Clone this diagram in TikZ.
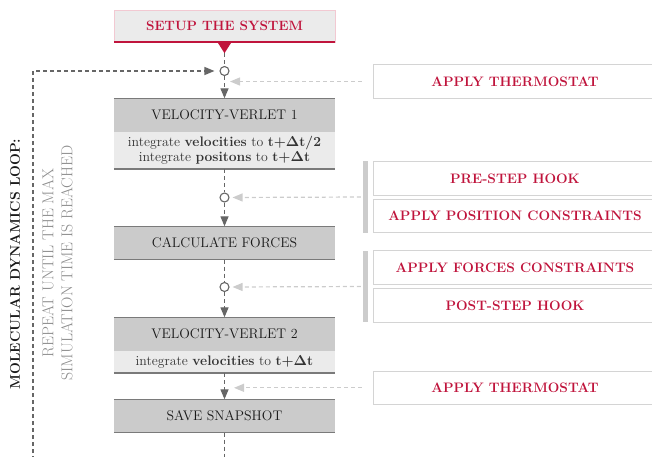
\documentclass[tikz,border=0pt]{standalone}
\usepackage{fontspec}
\usetikzlibrary{arrows.meta}

\definecolor{crimson}{HTML}{C0143C}
\definecolor{blush}{HTML}{F2C9D2}
\definecolor{stepgray}{HTML}{CBCBCB}
\definecolor{notegray}{HTML}{EBEBEB}
\definecolor{rulegray}{HTML}{7A7A7A}
\definecolor{flowgray}{HTML}{666666}
\definecolor{feedgray}{HTML}{CCCCCC}
\definecolor{sidegray}{HTML}{D4D4D4}
\definecolor{loopgray}{HTML}{8C8C8C}

\tikzset{
  stepbox/.style={minimum width=221pt, minimum height=33pt, inner sep=0pt,
    fill=stepgray, text=black!90, font=\fontsize{13.9}{15}\selectfont},
  notebox/.style={minimum width=221pt, inner sep=0pt, fill=notegray,
    text=black!80, align=center, font=\fontsize{13.8}{15}\selectfont},
  sidebox/.style={minimum width=284pt, minimum height=33.5pt, inner sep=0pt,
    draw=sidegray, line width=1pt, fill=white, text=crimson,
    font=\fontsize{13.7}{15}\selectfont\bfseries},
  bar/.style={fill=feedgray, minimum width=5.5pt, minimum height=71.5pt, inner sep=0pt},
  junction/.style={circle, draw=flowgray, fill=white, line width=1.1pt,
    inner sep=0pt, minimum size=9pt},
  flow/.style={flowgray, line width=1.3pt, dash pattern=on 4pt off 3pt},
  feed/.style={feedgray, line width=1.2pt, dash pattern=on 4pt off 3pt},
  pointer/.style={-{Triangle[length=10pt,width=8pt]}},
  boxrule/.style={rulegray, line width=1.3pt},
}

\begin{document}
\begin{tikzpicture}[x=1pt, y=-1pt]
  \useasboundingbox (0,0) rectangle (652,456);

  % start of the run
  \node[minimum width=221pt, minimum height=32pt, inner sep=0pt, fill=notegray,
    draw=blush, text=crimson, font=\fontsize{13.5}{15}\selectfont\bfseries]
    (setup) at (224.5,26) {SETUP THE SYSTEM};
  \draw[crimson, line width=2pt] (setup.south west) -- (setup.south east);
  \fill[crimson] (setup.south) +(-7,0) -- +(7,0) -- +(0,11) -- cycle;
  \coordinate (drop) at (224.5,53);

  % hook points on the main line
  \node[junction] (j1) at (224.5,71) {};
  \node[junction] (j2) at (224.5,197.5) {};
  \node[junction] (j3) at (224.5,287) {};

  % integration steps
  \node[stepbox] (vv1) at (224.5,115) {VELOCITY-VERLET 1};
  \node[notebox, minimum height=37pt, anchor=north] (vv1txt) at (vv1.south)
    {integrate \textbf{velocities} to \textbf{t+\boldmath$\Delta$t/2}\\
     integrate \textbf{positons} to \textbf{t+\boldmath$\Delta$t}};
  \node[stepbox] (forces) at (224.5,243) {CALCULATE FORCES};
  \node[stepbox] (vv2) at (224.5,334) {VELOCITY-VERLET 2};
  \node[notebox, minimum height=22pt, anchor=north] (vv2txt) at (vv2.south)
    {integrate \textbf{velocities} to \textbf{t+\boldmath$\Delta$t}};
  \node[stepbox] (snap) at (224.5,416) {SAVE SNAPSHOT};

  \foreach \hd/\ft in {vv1/vv1txt, forces/forces, vv2/vv2txt, snap/snap} {
    \draw[boxrule] (\hd.north west) -- (\hd.north east);
    \draw[boxrule] (\ft.south west) -- (\ft.south east);
  }

  % optional modules on the right
  \node[sidebox] (thermoA) at (515,81.5) {APPLY THERMOSTAT};
  \node[sidebox] (prehook) at (515,178.3) {PRE-STEP HOOK};
  \node[sidebox] (posc) at (515,216) {APPLY POSITION CONSTRAINTS};
  \node[sidebox] (forcec) at (515,267.5) {APPLY FORCES CONSTRAINTS};
  \node[sidebox] (posthook) at (515,305.3) {POST-STEP HOOK};
  \node[sidebox] (thermoB) at (515,387.8) {APPLY THERMOSTAT};
  \node[bar] (barA) at (365.7,197) {};
  \node[bar] (barB) at (365.7,286.5) {};

  \coordinate (inA) at (230,81.5);
  \coordinate (inB) at (234,387.8);
  \draw[feed, pointer, shorten <=11pt] (thermoA.west) -- (inA);
  \draw[feed, pointer, shorten <=2pt, shorten >=3pt] (barA.west) -- (j2.east);
  \draw[feed, pointer, shorten <=2pt, shorten >=3pt] (barB.west) -- (j3.east);
  \draw[feed, pointer, shorten <=11pt] (thermoB.west) -- (inB);

  % main line
  \draw[flow] (drop) -- (j1);
  \draw[flow, pointer] (j1) -- (vv1);
  \draw[flow] (vv1txt) -- (j2);
  \draw[flow, pointer] (j2) -- (forces);
  \draw[flow] (forces) -- (j3);
  \draw[flow, pointer] (j3) -- (vv2);
  \draw[flow, pointer] (vv2txt) -- (snap);
  \coordinate (out) at (224.5,460);
  \draw[flow] (snap) -- (out);

  % loop back
  \coordinate (back) at (33,460);
  \draw[flow, pointer, shorten >=5pt] (back) |- (j1);
  \node[rotate=90, text=black!90, font=\fontsize{14}{15}\selectfont\bfseries]
    (looptitle) at (15,264) {MOLECULAR DYNAMICS LOOP:};
  \node[rotate=90, align=center, text=loopgray, font=\fontsize{15.8}{19}\selectfont]
    (loopnote) at (57.5,263) {REPEAT UNTIL THE MAX\\SIMULATION TIME IS REACHED};
\end{tikzpicture}
\end{document}
